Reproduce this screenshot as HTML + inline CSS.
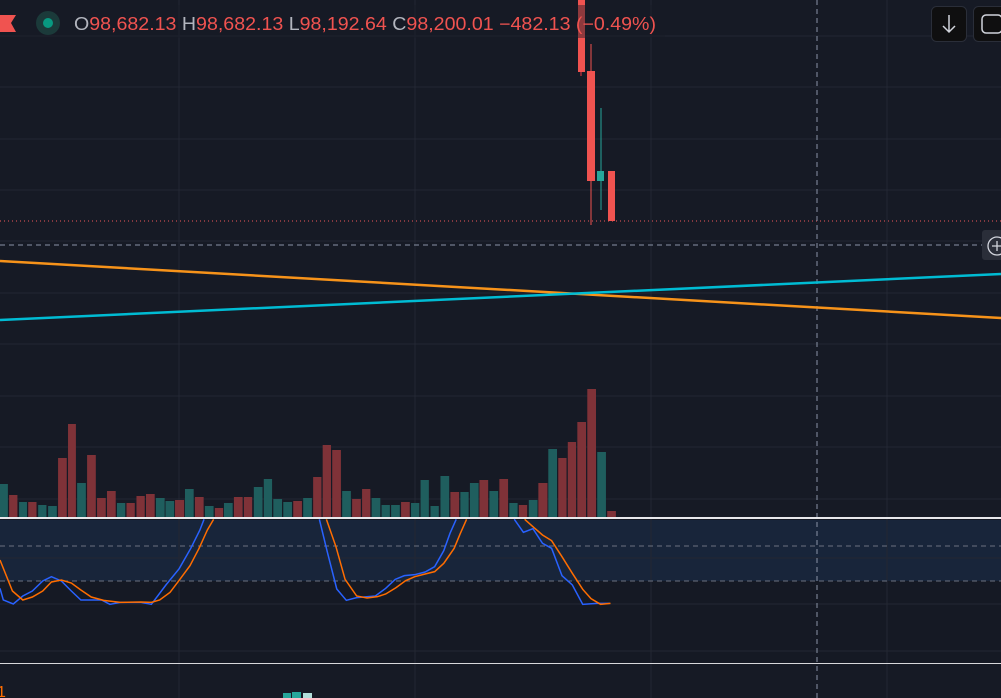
<!DOCTYPE html>
<html><head><meta charset="utf-8"><style>
body{margin:0;background:#161a25;width:1001px;height:698px;overflow:hidden;font-family:"Liberation Sans",sans-serif}
svg{display:block}
</style></head><body>
<svg width="1001" height="698" viewBox="0 0 1001 698" xmlns="http://www.w3.org/2000/svg">
<rect width="1001" height="698" fill="#161a25"/>
<rect y="519" width="1001" height="144" fill="#151924"/>
<rect y="520" width="1001" height="61" fill="#18253a"/>
<g stroke="#232733" stroke-width="1">
<line x1="0" y1="36" x2="1001" y2="36"/><line x1="0" y1="87" x2="1001" y2="87"/><line x1="0" y1="139" x2="1001" y2="139"/><line x1="0" y1="190" x2="1001" y2="190"/><line x1="0" y1="241" x2="1001" y2="241"/><line x1="0" y1="293" x2="1001" y2="293"/><line x1="0" y1="344" x2="1001" y2="344"/><line x1="0" y1="396" x2="1001" y2="396"/><line x1="0" y1="447" x2="1001" y2="447"/><line x1="0" y1="499" x2="1001" y2="499"/>
<line x1="0" y1="558" x2="1001" y2="558"/><line x1="0" y1="604" x2="1001" y2="604"/><line x1="0" y1="651" x2="1001" y2="651"/>
<line x1="179" y1="0" x2="179" y2="698"/><line x1="415" y1="0" x2="415" y2="698"/><line x1="651" y1="0" x2="651" y2="698"/><line x1="887" y1="0" x2="887" y2="698"/>
</g>
<g stroke="#6b7180" stroke-dasharray="5,4"><line x1="0" y1="546" x2="1001" y2="546"/><line x1="0" y1="581" x2="1001" y2="581"/></g>
<line x1="0" y1="221" x2="1001" y2="221" stroke="#f0585a" stroke-dasharray="1,3"/>
<line x1="0" y1="245" x2="1001" y2="245" stroke="#8a93a6" stroke-dasharray="5,4"/>
<line x1="817" y1="0" x2="817" y2="698" stroke="#8a93a6" stroke-dasharray="5,4"/>
<line x1="0" y1="261" x2="1001" y2="318" stroke="#f7931a" stroke-width="2.5"/>
<line x1="0" y1="320" x2="1001" y2="274" stroke="#00bcd4" stroke-width="2.5"/>
<!-- candles -->
<line x1="581" y1="0" x2="581" y2="76" stroke="#f23645"/>
<rect x="578" y="0" width="7" height="72" fill="#f05350"/>
<line x1="591" y1="44" x2="591" y2="225" stroke="#f05350"/>
<rect x="587" y="71" width="8" height="110" fill="#f05350"/>
<line x1="601" y1="108" x2="601" y2="210" stroke="#26a69a"/>
<rect x="597" y="171" width="7" height="10" fill="#26a69a"/>
<rect x="608" y="171" width="7" height="50" fill="#f05350"/>
<rect x="0" y="5" width="665" height="33" fill="#161a25" fill-opacity="0.45"/>
<!-- volume + stoch -->
<g transform="translate(0,380) scale(0.41475,0.33333)">
<g>
<rect x="0" y="312" width="19" height="101" fill="#1f5e5e"/><rect x="22" y="345" width="20" height="68" fill="#7f3238"/><rect x="46" y="366" width="19" height="47" fill="#1f5e5e"/><rect x="68" y="366" width="20" height="47" fill="#7f3238"/><rect x="92" y="375" width="20" height="38" fill="#1f5e5e"/><rect x="116" y="378" width="21" height="35" fill="#1f5e5e"/><rect x="140" y="234" width="21" height="179" fill="#7f3238"/><rect x="164" y="132" width="19" height="281" fill="#7f3238"/><rect x="186" y="309" width="21" height="104" fill="#1f5e5e"/><rect x="210" y="225" width="21" height="188" fill="#7f3238"/><rect x="234" y="354" width="21" height="59" fill="#7f3238"/><rect x="258" y="333" width="21" height="80" fill="#7f3238"/><rect x="282" y="369" width="20" height="44" fill="#1f5e5e"/><rect x="305" y="369" width="20" height="44" fill="#7f3238"/><rect x="329" y="348" width="20" height="65" fill="#7f3238"/><rect x="352" y="342" width="21" height="71" fill="#7f3238"/><rect x="376" y="354" width="21" height="59" fill="#1f5e5e"/><rect x="399" y="363" width="21" height="50" fill="#1f5e5e"/><rect x="422" y="360" width="22" height="53" fill="#7f3238"/><rect x="446" y="327" width="21" height="86" fill="#1f5e5e"/><rect x="470" y="351" width="21" height="62" fill="#7f3238"/><rect x="494" y="378" width="21" height="35" fill="#1f5e5e"/><rect x="518" y="384" width="20" height="29" fill="#7f3238"/><rect x="540" y="369" width="21" height="44" fill="#1f5e5e"/><rect x="564" y="351" width="21" height="62" fill="#7f3238"/><rect x="588" y="351" width="20" height="62" fill="#7f3238"/><rect x="612" y="321" width="21" height="92" fill="#1f5e5e"/><rect x="636" y="297" width="20" height="116" fill="#1f5e5e"/><rect x="659" y="357" width="21" height="56" fill="#1f5e5e"/><rect x="683" y="366" width="21" height="47" fill="#1f5e5e"/><rect x="707" y="363" width="21" height="50" fill="#7f3238"/><rect x="731" y="354" width="21" height="59" fill="#1f5e5e"/><rect x="755" y="291" width="20" height="122" fill="#7f3238"/><rect x="778" y="195" width="20" height="218" fill="#7f3238"/><rect x="801" y="210" width="21" height="203" fill="#7f3238"/><rect x="825" y="333" width="21" height="80" fill="#1f5e5e"/><rect x="849" y="357" width="21" height="56" fill="#7f3238"/><rect x="873" y="327" width="20" height="86" fill="#7f3238"/><rect x="896" y="354" width="21" height="59" fill="#1f5e5e"/><rect x="920" y="375" width="20" height="38" fill="#1f5e5e"/><rect x="943" y="375" width="21" height="38" fill="#1f5e5e"/><rect x="967" y="366" width="21" height="47" fill="#7f3238"/><rect x="991" y="369" width="20" height="44" fill="#1f5e5e"/><rect x="1014" y="300" width="20" height="113" fill="#1f5e5e"/><rect x="1038" y="378" width="20" height="35" fill="#1f5e5e"/><rect x="1062" y="288" width="21" height="125" fill="#1f5e5e"/><rect x="1086" y="336" width="21" height="77" fill="#7f3238"/><rect x="1110" y="336" width="20" height="77" fill="#1f5e5e"/><rect x="1133" y="309" width="21" height="104" fill="#1f5e5e"/><rect x="1156" y="300" width="21" height="113" fill="#7f3238"/><rect x="1180" y="333" width="21" height="80" fill="#1f5e5e"/><rect x="1204" y="297" width="21" height="116" fill="#7f3238"/><rect x="1228" y="369" width="20" height="44" fill="#1f5e5e"/><rect x="1251" y="375" width="20" height="38" fill="#7f3238"/><rect x="1275" y="360" width="21" height="53" fill="#1f5e5e"/><rect x="1298" y="309" width="22" height="104" fill="#7f3238"/><rect x="1322" y="207" width="21" height="206" fill="#1f5e5e"/><rect x="1346" y="234" width="20" height="179" fill="#7f3238"/><rect x="1369" y="186" width="20" height="227" fill="#7f3238"/><rect x="1392" y="126" width="21" height="287" fill="#7f3238"/><rect x="1416" y="27" width="21" height="386" fill="#7f3238"/><rect x="1440" y="216" width="21" height="197" fill="#1f5e5e"/><rect x="1464" y="393" width="21" height="20" fill="#7f3238"/>
</g>
<g fill="none" stroke-width="1.5">
<polyline vector-effect="non-scaling-stroke" stroke="#2962ff" points="0,625 8,660 32,672 55,648 78,633 103,603 124,590 148,603 172,633 195,660 245,660 265,673 290,667 340,667 365,673 400,615 432,566 460,505 482,450 492,418"/>
<polyline vector-effect="non-scaling-stroke" stroke="#2962ff" points="770,418 790,520 812,627 835,661 860,653 905,648 930,625 953,598 975,587 1000,584 1025,576 1048,560 1070,512 1085,460 1100,418"/>
<polyline vector-effect="non-scaling-stroke" stroke="#2962ff" points="1240,418 1262,457 1285,446 1308,490 1330,505 1355,587 1380,615 1405,673 1440,670 1470,670"/>
<polyline vector-effect="non-scaling-stroke" stroke="#ff6d00" points="0,540 30,633 55,660 78,651 103,633 124,606 148,600 172,609 195,630 220,651 250,661 290,667 340,666 365,667 385,660 410,637 432,601 458,557 480,505 500,450 515,418"/>
<polyline vector-effect="non-scaling-stroke" stroke="#ff6d00" points="787,418 810,500 832,598 860,648 885,654 910,650 930,642 955,623 978,602 1000,590 1025,582 1048,575 1070,550 1095,505 1110,460 1125,418"/>
<polyline vector-effect="non-scaling-stroke" stroke="#ff6d00" points="1265,418 1285,440 1308,465 1330,482 1355,530 1380,580 1405,628 1425,656 1448,673 1472,670"/>
</g>
</g>
<rect x="0" y="517" width="1001" height="2" fill="#e8e8ec"/>
<rect x="0" y="663" width="1001" height="1" fill="#d8d8dc"/>
<rect x="283" y="693" width="8" height="5" fill="#26a69a"/><rect x="292" y="692" width="9" height="6" fill="#26a69a"/><rect x="303" y="693" width="9" height="5" fill="#b2dfdb"/>
<text x="-3" y="697" font-size="16" fill="#ff6d00">1</text>
<!-- legend -->
<polygon points="0,15 16,15 11,23 16,32 0,32" fill="#f05350"/>
<circle cx="48" cy="23" r="12" fill="#1b3a3a"/><circle cx="48" cy="23" r="5" fill="#089981"/>
<text x="74" y="30" font-size="18" fill="#f05350" textLength="582" lengthAdjust="spacingAndGlyphs" font-family="Liberation Sans, sans-serif"><tspan fill="#b2b5be">O</tspan>98,682.13 <tspan fill="#b2b5be">H</tspan>98,682.13 <tspan fill="#b2b5be">L</tspan>98,192.64 <tspan fill="#b2b5be">C</tspan>98,200.01 −482.13 (−0.49%)</text>
<!-- buttons -->
<rect x="931.5" y="6.5" width="35" height="35" rx="5" fill="#0f0f10" stroke="#2a2e39"/>
<path d="M949 15 V32 M943 26 L949 32 L955 26" stroke="#d1d4dc" stroke-width="1.5" fill="none"/>
<rect x="973.5" y="6.5" width="35" height="35" rx="5" fill="#0f0f10" stroke="#2a2e39"/>
<rect x="982" y="15" width="20" height="18" rx="4" stroke="#d1d4dc" stroke-width="1.5" fill="none"/>
<rect x="982" y="230" width="25" height="30" rx="3" fill="#2a2e39"/>
<circle cx="997" cy="246" r="9" stroke="#d1d4dc" stroke-width="1.3" fill="none"/>
<path d="M992 246 H1002 M997 241 V251" stroke="#d1d4dc" stroke-width="1.3"/>
</svg>
</body></html>
